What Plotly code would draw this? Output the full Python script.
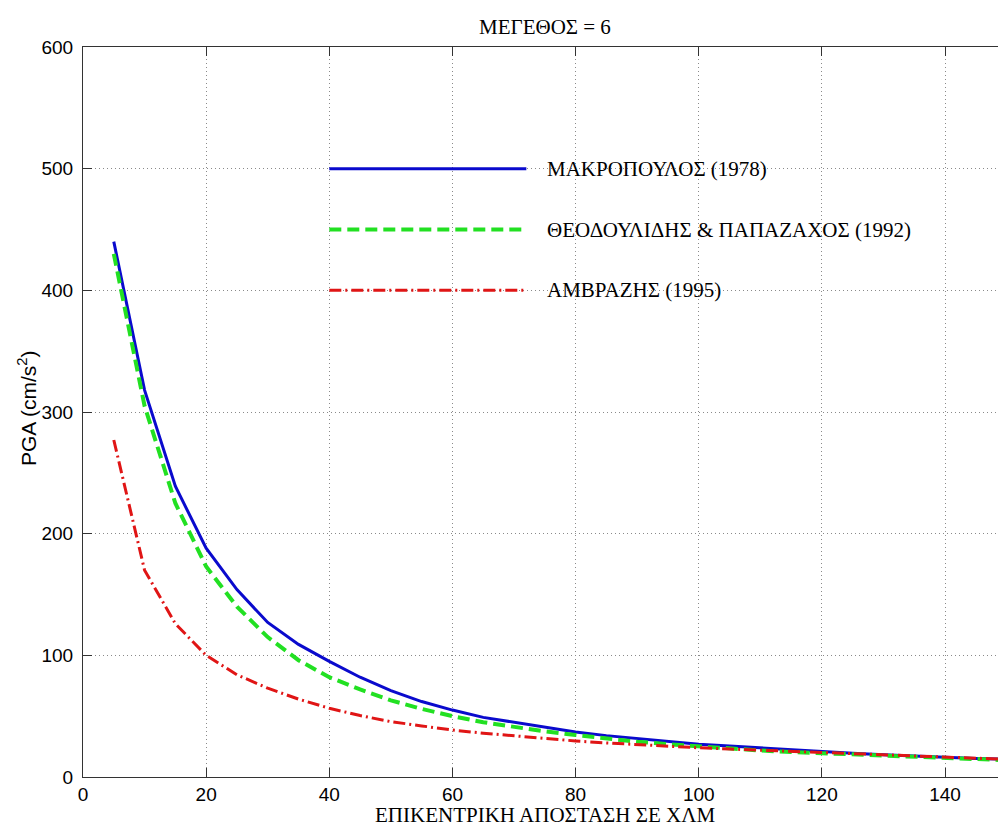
import plotly.graph_objects as go

# Epicentral distance (km)
distance_km = [5, 10, 15, 20, 25, 30, 35, 40, 45, 50, 55, 60, 65, 70, 75,
               80, 85, 90, 95, 100, 105, 110, 115, 120, 125, 130, 135, 140, 145, 150]

# PGA (cm/s^2) for magnitude 6, three attenuation relations
pga_makropoulos = [440, 318, 239, 188, 154, 127, 109, 95, 82, 71, 62, 55, 49, 45, 41,
                   37, 34, 31.5, 29, 27, 25.5, 24, 22, 20.5, 19.5, 18.3, 17.2, 16, 15.2, 14.5]
pga_theodoulidis = [430, 305, 225, 173, 140, 115, 96, 82, 72, 63, 56, 50, 45, 41, 37.5,
                    34.5, 31.5, 29, 27, 25, 23.3, 21.8, 20.5, 19.5, 18.3, 17.3, 16.3, 15.3, 14.5, 13.8]
pga_ambraseys = [277, 170, 126, 100, 84, 73, 64, 56.5, 50.5, 45.5, 42, 38.6, 36, 33.7, 31.5,
                 29.6, 28, 26.5, 25.2, 24, 23, 22, 21, 20, 19, 18, 17, 16, 15.2, 14.5]

series_names = ["ΜΑΚΡΟΠΟΥΛΟΣ (1978)",
                "ΘΕΟΔΟΥΛΙΔΗΣ & ΠΑΠΑΖΑΧΟΣ (1992)",
                "ΑΜΒΡΑΖΗΣ (1995)"]

# In-axes key: sample line span and level for each series
key_x = [40, 72]
key_text_x = 75
key_levels = [500, 450, 400]

title_text = "ΜΕΓΕΘΟΣ = 6"
x_title = "ΕΠΙΚΕΝΤΡΙΚΗ ΑΠΟΣΤΑΣΗ ΣΕ ΧΛΜ"
y_title = "PGA (cm/s<sup>2</sup>)"
x_ticks = [0, 20, 40, 60, 80, 100, 120, 140]
y_ticks = [0, 100, 200, 300, 400, 500, 600]

styles = [
    dict(color="#0A0ACD", width=3, dash="solid"),
    dict(color="#22E022", width=4, dash="12px,6px"),
    dict(color="#E01515", width=3, dash="12px,4px,2px,4px"),
]
series = [pga_makropoulos, pga_theodoulidis, pga_ambraseys]

fig = go.Figure()
for name, vals, st in zip(series_names, series, styles):
    fig.add_trace(go.Scatter(x=distance_km, y=vals, mode="lines", name=name,
                             line=st, showlegend=False))

serif = "Liberation Serif, Times New Roman, serif"
sans = "Liberation Sans, Arial, sans-serif"
text_size = 21

for name, lvl, st in zip(series_names, key_levels, styles):
    fig.add_trace(go.Scatter(x=key_x, y=[lvl, lvl], mode="lines", line=st,
                             showlegend=False, hoverinfo="skip"))
    fig.add_annotation(x=key_text_x, y=lvl, xref="x", yref="y", text=name,
                       showarrow=False, xanchor="left", yanchor="middle",
                       font=dict(family=serif, size=text_size, color="black"))

fig.add_annotation(x=75, y=1, xref="x", yref="paper", yshift=20, text=title_text,
                   showarrow=False, xanchor="center", yanchor="middle",
                   font=dict(family=serif, size=text_size, color="black"))
fig.add_annotation(x=75, y=0, xref="x", yref="paper", yshift=-38, text=x_title,
                   showarrow=False, xanchor="center", yanchor="middle",
                   font=dict(family=serif, size=text_size, color="black"))
fig.add_annotation(x=0, y=0.5, xref="paper", yref="paper", xshift=-56, yshift=4,
                   text=y_title, showarrow=False, textangle=-90,
                   xanchor="center", yanchor="middle",
                   font=dict(family=sans, size=21, color="black"))

axis_common = dict(
    showline=True, linecolor="#333", linewidth=1,
    ticks="inside", ticklen=9, tickcolor="#333", tickwidth=1,
    showgrid=True, gridcolor="#8a8a8a", gridwidth=1, griddash="1px,3px",
    zeroline=False,
    tickfont=dict(family=sans, size=19, color="black"),
)

fig.update_xaxes(range=[0, 148.6], tickvals=x_ticks, mirror="ticks", **axis_common)
fig.update_yaxes(range=[0, 600], tickvals=y_ticks, mirror=False,
                 ticklabelstandoff=5, **axis_common)

fig.update_layout(
    width=998, height=828,
    margin=dict(l=83, r=0, t=47, b=51),
    plot_bgcolor="white", paper_bgcolor="white",
)

fig.write_html("out.html")
